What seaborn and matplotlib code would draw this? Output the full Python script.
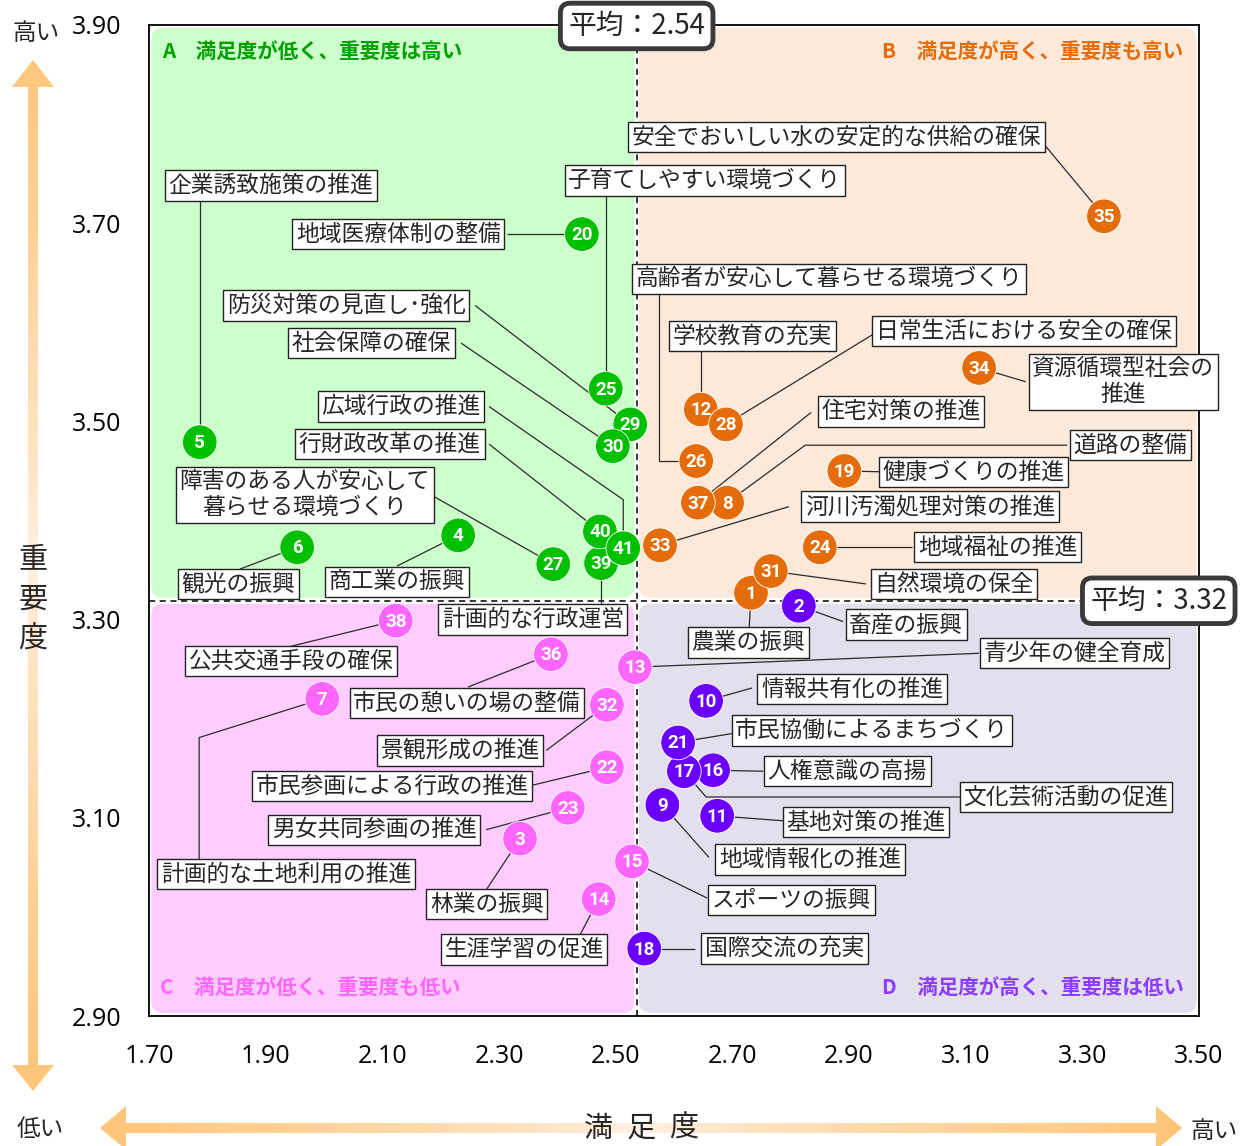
import numpy as np
import pandas as pd
import matplotlib
matplotlib.use("Agg")
import matplotlib.pyplot as plt
import seaborn as sns
from matplotlib.patches import FancyBboxPatch, Polygon

# ---------------- data ----------------
item_no = list(range(1, 42))
item_names = [
    "農業の振興", "畜産の振興", "林業の振興", "商工業の振興", "企業誘致施策の推進",
    "観光の振興", "計画的な土地利用の推進", "道路の整備", "地域情報化の推進", "情報共有化の推進",
    "基地対策の推進", "学校教育の充実", "青少年の健全育成", "生涯学習の促進", "スポーツの振興",
    "人権意識の高揚", "文化芸術活動の促進", "国際交流の充実", "健康づくりの推進", "地域医療体制の整備",
    "市民協働によるまちづくり", "市民参画による行政の推進", "男女共同参画の推進", "地域福祉の推進",
    "子育てしやすい環境づくり", "高齢者が安心して暮らせる環境づくり",
    "障害のある人が安心して\n暮らせる環境づくり", "日常生活における安全の確保",
    "防災対策の見直し･強化", "社会保障の確保", "自然環境の保全", "景観形成の推進",
    "河川汚濁処理対策の推進", "資源循環型社会の\n推進", "安全でおいしい水の安定的な供給の確保",
    "市民の憩いの場の整備", "住宅対策の推進", "公共交通手段の確保", "計画的な行政運営",
    "行財政改革の推進", "広域行政の推進",
]
satisfaction = [
    2.732, 2.814, 2.336, 2.230, 1.787, 1.954, 1.997, 2.691, 2.580, 2.655,
    2.674, 2.646, 2.533, 2.471, 2.528, 2.667, 2.617, 2.549, 2.892, 2.442,
    2.607, 2.485, 2.418, 2.850, 2.483, 2.638, 2.393, 2.689, 2.525, 2.495,
    2.766, 2.485, 2.576, 3.123, 3.337, 2.389, 2.641, 2.123, 2.475, 2.473,
    2.513,
]
importance = [
    3.327, 3.314, 3.079, 3.385, 3.479, 3.373, 3.220, 3.418, 3.113, 3.218,
    3.102, 3.512, 3.252, 3.018, 3.056, 3.148, 3.147, 2.968, 3.450, 3.689,
    3.176, 3.151, 3.110, 3.373, 3.533, 3.460, 3.356, 3.497, 3.497, 3.475,
    3.349, 3.214, 3.375, 3.554, 3.707, 3.265, 3.418, 3.299, 3.357, 3.389,
    3.372,
]
mean_satisfaction = 2.536
mean_importance = 3.319

x_ticks = [1.70, 1.90, 2.10, 2.30, 2.50, 2.70, 2.90, 3.10, 3.30, 3.50]
y_ticks = [2.90, 3.10, 3.30, 3.50, 3.70, 3.90]

quadrant_titles = {
    "A": "A　満足度が低く、重要度は高い",
    "B": "B　満足度が高く、重要度も高い",
    "C": "C　満足度が低く、重要度も低い",
    "D": "D　満足度が高く、重要度は低い",
}

# ---------------- layout of the callout boxes (data coords) ----------------
# number: (box centre x, box centre y, [leader waypoints ... ending on the box edge])
label_layout = {
    1: (2.727, 3.277, [(2.729, 3.292)]),
    2: (2.998, 3.295, [(2.890, 3.298)]),
    3: (2.279, 3.013, [(2.279, 3.028)]),
    4: (2.125, 3.338, [(2.125, 3.354)]),
    5: (1.909, 3.738, [(1.787, 3.723)]),
    6: (1.853, 3.336, [(1.856, 3.351)]),
    7: (1.935, 3.043, [(1.786, 3.181), (1.786, 3.058)]),
    8: (3.382, 3.476, [(2.825, 3.476), (3.274, 3.476)]),
    9: (2.833, 3.058, [(2.660, 3.060)]),
    10: (2.905, 3.230, [(2.734, 3.231)]),
    11: (2.929, 3.096, [(2.787, 3.097)]),
    12: (2.735, 3.586, [(2.646, 3.571)]),
    13: (3.286, 3.266, [(3.123, 3.266)]),
    14: (2.343, 2.967, [(2.439, 2.982)]),
    15: (2.801, 3.017, [(2.657, 3.019)]),
    16: (2.897, 3.147, [(2.753, 3.147)]),
    17: (3.272, 3.121, [(2.655, 3.121), (3.092, 3.121)]),
    18: (2.789, 2.968, [(2.636, 2.968)]),
    19: (3.113, 3.449, [(2.965, 3.449)]),
    20: (2.127, 3.689, [(2.314, 3.689)]),
    21: (2.939, 3.188, [(2.730, 3.188)]),
    22: (2.117, 3.132, [(2.351, 3.132)]),
    23: (2.086, 3.088, [(2.278, 3.088)]),
    24: (3.155, 3.373, [(3.008, 3.373)]),
    25: (2.653, 3.743, [(2.483, 3.727)]),
    26: (2.866, 3.644, [(2.574, 3.460), (2.574, 3.629)]),
    27: (1.967, 3.426, [(2.183, 3.426)]),
    28: (3.200, 3.591, [(2.950, 3.591)]),
    29: (2.038, 3.617, [(2.259, 3.617)]),
    30: (2.081, 3.579, [(2.235, 3.579)]),
    31: (3.080, 3.336, [(2.929, 3.336)]),
    32: (2.233, 3.168, [(2.381, 3.168)]),
    33: (3.039, 3.414, [(2.797, 3.414)]),
    34: (3.370, 3.540, [(3.203, 3.540)]),
    35: (2.879, 3.787, [(3.224, 3.787)]),
    36: (2.245, 3.216, [(2.247, 3.232)]),
    37: (2.989, 3.510, [(2.835, 3.509)]),
    38: (1.943, 3.258, [(1.943, 3.273)]),
    39: (2.358, 3.300, [(2.475, 3.315)]),
    40: (2.113, 3.477, [(2.283, 3.477)]),
    41: (2.132, 3.515, [(2.513, 3.421), (2.283, 3.515)]),
}

# ---------------- styles ----------------
W, H = 1249, 1146
JP = ["Noto Sans CJK JP", "DejaVu Sans"]
point_colors = {"A": "#00c000", "B": "#e46c0a", "C": "#ff66ff", "D": "#6a00ff"}
bg_colors = {"A": "#ccffcc", "B": "#fde9d9", "C": "#ffccff", "D": "#e4dfec"}
title_colors = {"A": "#00a000", "B": "#e46c0a", "C": "#ff66ff", "D": "#8a3cff"}

sns.set_theme(style="white")
plt.rcParams["font.family"] = JP
plt.rcParams["axes.unicode_minus"] = False

df = pd.DataFrame({"no": item_no, "name": item_names,
                   "satisfaction": satisfaction, "importance": importance})


def quadrant(r):
    hi = r.importance >= mean_importance
    right = r.satisfaction >= mean_satisfaction
    if hi and not right:
        return "A"
    if hi and right:
        return "B"
    if not hi and not right:
        return "C"
    return "D"


df["quadrant"] = df.apply(quadrant, axis=1)

fig = plt.figure(figsize=(W / 100, H / 100), dpi=100)
fig.patch.set_facecolor("white")

# background overlay in pixel coordinates for the gradient arrows
axbg = fig.add_axes([0, 0, 1, 1], zorder=0)
axbg.set_xlim(0, W)
axbg.set_ylim(H, 0)
axbg.axis("off")

sat_rgb = np.array([255, 197, 120]) / 255.0
pale_rgb = np.array([255, 243, 232]) / 255.0


def gradient_arrow(pts, orient, lo, hi, mid, cross_lo, cross_hi):
    poly = Polygon(pts, closed=True, facecolor="none", edgecolor="none")
    axbg.add_patch(poly)
    n = 600
    pos = np.linspace(lo, hi, n)
    t = np.abs(pos - mid) / max(mid - lo, hi - mid)
    t = np.clip(t, 0, 1) ** 0.7
    cols = pale_rgb[None, :] + (sat_rgb - pale_rgb)[None, :] * t[:, None]
    if orient == "v":
        img = cols[:, None, :]
        im = axbg.imshow(img, extent=(cross_lo, cross_hi, hi, lo), origin="upper",
                         aspect="auto", interpolation="bilinear")
    else:
        img = cols[None, :, :]
        im = axbg.imshow(img, extent=(lo, hi, cross_hi, cross_lo), origin="upper",
                         aspect="auto", interpolation="bilinear")
    im.set_clip_path(poly)


# vertical arrow (importance)
cx, sw, hw = 33, 5, 21
gradient_arrow([(cx, 60), (cx + hw, 87), (cx + sw, 87), (cx + sw, 1065),
                (cx + hw, 1065), (cx, 1091), (cx - hw, 1065), (cx - sw, 1065),
                (cx - sw, 87), (cx - hw, 87)], "v", 60, 1091, 560, cx - hw, cx + hw)
# horizontal arrow (satisfaction)
cy, sh, hh = 1128, 5, 22
gradient_arrow([(100, cy), (126, cy - hh), (126, cy - sh), (1156, cy - sh),
                (1156, cy - hh), (1182, cy), (1156, cy + hh), (1156, cy + sh),
                (126, cy + sh), (126, cy + hh)], "h", 100, 1182, 640, cy - hh, cy + hh)
axbg.set_xlim(0, W)
axbg.set_ylim(H, 0)

axbg.text(36, 33, "高い", fontsize=17, ha="center", va="center", family=JP)
axbg.text(40, 1129, "低い", fontsize=17, ha="center", va="center", family=JP)
axbg.text(1214, 1131, "高い", fontsize=17, ha="center", va="center", family=JP)
for ch, xpos in zip("満足度", (598, 641, 684)):
    axbg.text(xpos, 1129, ch, fontsize=21, ha="center", va="center", family=JP)
axbg.text(33, 600, "重\n要\n度", fontsize=21, ha="center", va="center",
          family=JP, linespacing=1.42)

# ---------------- main axes ----------------
ax = fig.add_axes([149 / W, 130 / H, 1050 / W, 991 / H], zorder=1)
ax.set_facecolor("white")
ax.set_xlim(x_ticks[0], x_ticks[-1])
ax.set_ylim(y_ticks[0], y_ticks[-1])

# quadrant backgrounds (rounded)
x0, x1 = x_ticks[0], x_ticks[-1]
y0, y1 = y_ticks[0], y_ticks[-1]
ex, ey = 0.004, 0.003
asp = (1 / 991) / (1 / 583.33)
quads = {
    "A": (x0 + ex, mean_satisfaction - ex, mean_importance + ey, y1 - ey),
    "B": (mean_satisfaction + ex, x1 - ex, mean_importance + ey, y1 - ey),
    "C": (x0 + ex, mean_satisfaction - ex, y0 + ey, mean_importance - ey),
    "D": (mean_satisfaction + ex, x1 - ex, y0 + ey, mean_importance - ey),
}
for q, (qa, qb, qc, qd) in quads.items():
    p = FancyBboxPatch((qa, qc), qb - qa, qd - qc,
                       boxstyle="round,pad=0,rounding_size=0.02",
                       mutation_aspect=asp, facecolor=bg_colors[q],
                       edgecolor="none", zorder=0.5)
    ax.add_patch(p)

ax.axvline(mean_satisfaction, color="black", lw=1.1, ls=(0, (4, 3)), zorder=1)
ax.axhline(mean_importance, color="black", lw=1.1, ls=(0, (4, 3)), zorder=1)

# quadrant titles
tkw = dict(fontsize=14.8, fontweight="bold", va="center", family=JP, zorder=2)
ax.text(1.723, 3.872, quadrant_titles["A"], ha="left", color=title_colors["A"], **tkw)
ax.text(3.473, 3.872, quadrant_titles["B"], ha="right", color=title_colors["B"], **tkw)
ax.text(1.718, 2.928, quadrant_titles["C"], ha="left", color=title_colors["C"], **tkw)
ax.text(3.473, 2.928, quadrant_titles["D"], ha="right", color=title_colors["D"], **tkw)

# leader lines and label boxes
for _, r in df.iterrows():
    bx, by, path = label_layout[r.no]
    xs = [r.satisfaction] + [p[0] for p in path]
    ys = [r.importance] + [p[1] for p in path]
    ax.plot(xs, ys, color="#2b2b2b", lw=0.9, zorder=2, solid_capstyle="butt")
    ax.text(bx, by, r["name"], fontsize=16.4, ha="center", va="center", family=JP,
            linespacing=1.15, multialignment="center", zorder=3,
            bbox=dict(boxstyle="square,pad=0.16", fc="white", ec="#222222", lw=1.0))

# points
sns.scatterplot(data=df, x="satisfaction", y="importance", hue="quadrant",
                palette=point_colors, s=620, edgecolor="white", linewidth=0.6,
                legend=False, zorder=4, ax=ax)
for _, r in df.iterrows():
    ax.text(r.satisfaction, r.importance - 0.001, str(r.no), color="white",
            fontsize=13.5, fontweight="bold", ha="center", va="center",
            family=["Roboto", "DejaVu Sans"], zorder=5)

# mean labels
mkw = dict(fontsize=20, ha="center", va="center", family=JP, zorder=6, clip_on=False,
           bbox=dict(boxstyle="round,pad=0.28,rounding_size=0.35", fc="white",
                     ec="#3a3a3a", lw=3.5))
ax.text(mean_satisfaction, 3.899, f"平均：{2.54:.2f}", **mkw)
ax.text(3.431, mean_importance, f"平均：{3.32:.2f}", **mkw)

# axes cosmetics
ax.set_xticks(x_ticks)
ax.set_yticks(y_ticks)
ax.set_xticklabels([f"{v:.2f}" for v in x_ticks])
ax.set_yticklabels([f"{v:.2f}" for v in y_ticks])
ax.tick_params(axis="both", direction="in", length=4, width=0.8, labelsize=18,
               colors="black")
ax.tick_params(axis="x", pad=20)
ax.tick_params(axis="y", pad=20)
for lab in ax.get_xticklabels() + ax.get_yticklabels():
    lab.set_family(["Open Sans", "DejaVu Sans"])
ax.set_xlabel("")
ax.set_ylabel("")
for s in ax.spines.values():
    s.set_visible(True)
    s.set_color("black")
    s.set_linewidth(1.3)

fig.savefig("out.png", dpi=100)
